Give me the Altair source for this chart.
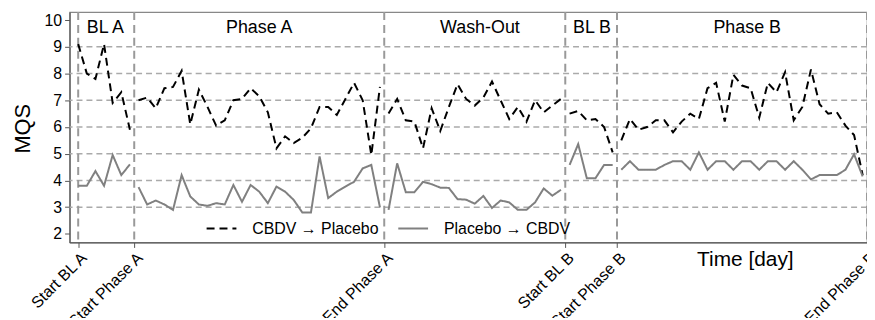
import json
import altair as alt
import pandas as pd

# ---------------- data ----------------
segments = ["BL A", "Phase A", "Wash-Out", "BL B", "Phase B"]
segment_start_day = [0, 7, 36, 57, 63]

series_names = ["CBDV \u2192 Placebo", "Placebo \u2192 CBDV"]

# CBDV -> Placebo (black dashed)
cbdv_bl_a = [9.1, 8.0, 7.8, 9.1, 6.9, 7.3, 5.9]
cbdv_phase_a = [7.0, 7.1, 6.7, 7.45, 7.5, 8.1, 6.1, 7.4, 6.75, 6.05,
                6.25, 7.0, 7.05, 7.45, 7.15, 6.55, 5.2, 5.65, 5.4, 5.6,
                5.95, 6.75, 6.75, 6.45, 7.05, 7.65, 7.0, 4.95, 7.5]
cbdv_washout = [6.5, 7.05, 6.25, 6.2, 5.2, 6.7, 5.85, 6.75, 7.6, 7.05,
                6.8, 7.1, 7.7, 7.0, 6.3, 6.75, 6.2, 7.0, 6.55, 6.8, 7.05]
cbdv_bl_b = [6.5, 6.6, 6.25, 6.3, 6.0, 5.05]
cbdv_phase_b = [5.5, 6.3, 5.9, 6.0, 6.25, 6.25, 5.8, 6.2, 6.5, 6.3,
                7.45, 7.65, 6.2, 7.95, 7.55, 7.45, 6.35, 7.65, 7.3, 8.05,
                6.25, 6.75, 8.15, 6.85, 6.5, 6.55, 6.05, 5.7, 4.2]

# Placebo -> CBDV (grey solid)
plac_bl_a = [3.8, 3.8, 4.35, 3.8, 4.95, 4.2, 4.6]
plac_phase_a = [3.75, 3.1, 3.25, 3.1, 2.9, 4.2, 3.4, 3.1, 3.05, 3.15,
                3.1, 3.83, 3.2, 3.83, 3.58, 3.15, 3.77, 3.58, 3.27, 2.8,
                2.8, 4.9, 3.34, 3.58, 3.77, 3.95, 4.45, 4.58, 3.0]
plac_washout = [2.9, 4.64, 3.56, 3.56, 3.95, 3.86, 3.73, 3.72, 3.3, 3.28,
                3.13, 3.42, 2.97, 3.25, 3.18, 2.9, 2.9, 3.18, 3.7, 3.43, 3.65]
plac_bl_b = [4.58, 5.36, 4.08, 4.08, 4.58, 4.58]
plac_phase_b = [4.4, 4.72, 4.4, 4.4, 4.4, 4.58, 4.72, 4.72, 4.4, 5.05,
                4.4, 4.72, 4.72, 4.4, 4.72, 4.72, 4.4, 4.72, 4.72, 4.4,
                4.72, 4.4, 4.04, 4.2, 4.2, 4.2, 4.4, 4.98, 4.15]

boundary_days = [0, 6.5, 35.5, 56.5, 62.5, 91.5]
boundary_labels = ["Start BL A", "Start Phase A", "End Phase A",
                   "Start BL B", "Start Phase B", "End Phase B"]

phase_label_days = [3.15, 21.0, 46.6, 59.6, 77.6]

grid_values = [3, 4, 5, 6, 7, 8, 9]
y_ticks = [2, 3, 4, 5, 6, 7, 8, 9, 10]

# ---------------- tables ----------------
rows = []
all_series = {
    series_names[0]: [cbdv_bl_a, cbdv_phase_a, cbdv_washout, cbdv_bl_b, cbdv_phase_b],
    series_names[1]: [plac_bl_a, plac_phase_a, plac_washout, plac_bl_b, plac_phase_b],
}
for name, segs in all_series.items():
    for seg, start, vals in zip(segments, segment_start_day, segs):
        for i, v in enumerate(vals):
            rows.append({"series": name, "segment": seg, "day": start + i, "mqs": v})
df = pd.DataFrame(rows)

bounds_df = pd.DataFrame({"day": boundary_days, "label": boundary_labels})
phase_df = pd.DataFrame({"day": phase_label_days, "label": segments})
grid_df = pd.DataFrame({"mqs": grid_values})

FONT = "Liberation Sans, Arial, Helvetica, sans-serif"

xscale = alt.Scale(domain=[-1, 91.5], nice=False, zero=False)
yscale = alt.Scale(domain=[1.68, 10.3], nice=False, zero=False)

label_map = json.dumps({str(d): l for d, l in zip(boundary_days, boundary_labels)})

x_axis = alt.Axis(
    values=boundary_days,
    labelExpr=f"{label_map}[toString(datum.value)]",
    labelAngle=-45, labelFontSize=16, labelFont=FONT, labelColor="black",
    labelOverlap=False, labelFlush=False, labelPadding=2, labelBound=False,
    tickSize=5, tickColor="#555555", domainColor="#555555", domainWidth=1.2,
    grid=False,
    title="Time [day]", titleFont=FONT, titleFontSize=21, titleFontWeight="normal",
    titleColor="black", titleAngle=0, titleAlign="center", titleBaseline="middle",
    titleX=680, titleY=17,
)
y_axis = alt.Axis(
    values=y_ticks, labelFontSize=16, labelFont=FONT, labelColor="black",
    tickSize=5, tickColor="#555555", domainColor="#555555", domainWidth=1.2,
    grid=False, labelPadding=3,
    title="MQS", titleFont=FONT, titleFontSize=22, titleFontWeight="normal",
    titleColor="black", titleAngle=270, titleAlign="center", titleBaseline="middle",
    titleX=-47, titleY=117,
)

legend = alt.Legend(
    title=None, orient="none", legendX=137, legendY=202, direction="horizontal",
    symbolType="stroke", symbolSize=900, symbolStrokeWidth=2,
    labelFont=FONT, labelFontSize=16, labelColor="black", labelOffset=15,
    columnPadding=15, padding=0,
)

X = alt.X("day:Q", scale=xscale, axis=x_axis, title="Time [day]")
Y = alt.Y("mqs:Q", scale=yscale, axis=y_axis, title="MQS")

hgrid = alt.Chart(grid_df).mark_rule(
    color="#aaaaaa", strokeWidth=1.5, strokeDash=[6, 4]
).encode(y=Y)

vlines = alt.Chart(bounds_df).mark_rule(
    color="#999999", strokeWidth=2, strokeDash=[8, 5]
).encode(x=X)

lines = alt.Chart(df).mark_line(strokeWidth=2).encode(
    x=X,
    y=Y,
    color=alt.Color("series:N", scale=alt.Scale(domain=series_names,
                                                range=["#000000", "#808080"]),
                    legend=legend),
    strokeDash=alt.StrokeDash("series:N", scale=alt.Scale(domain=series_names,
                                                          range=[[8, 5], [1, 0]]),
                              legend=legend),
    detail="segment:N",
    order="day:Q",
)

phase_text = alt.Chart(phase_df).mark_text(
    font=FONT, fontSize=18, color="black", baseline="middle", align="center"
).encode(
    x=X,
    y=alt.value(16),
    text="label:N",
)

chart = alt.layer(hgrid, vlines, lines, phase_text).properties(
    width=803, height=232,
    autosize=alt.AutoSizeParams(type="none"),
    padding={"left": 62, "top": 3, "right": 0, "bottom": 75},
    background="white",
).configure_view(stroke="#888888", strokeWidth=1.2)

chart.save("out.html", embed_options={"renderer": "svg", "actions": False})
